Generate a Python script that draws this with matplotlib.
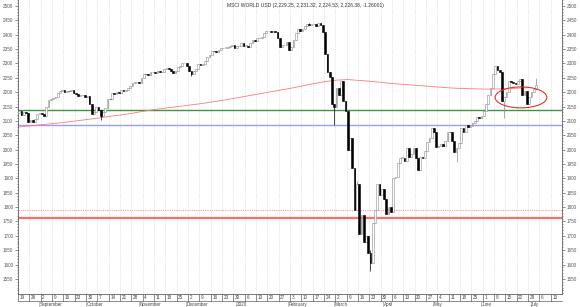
import numpy as np
import pandas as pd
import matplotlib
matplotlib.use('Agg')
import matplotlib.pyplot as plt
import matplotlib.transforms as mtransforms
from matplotlib.patches import Ellipse
from matplotlib.ticker import MultipleLocator

title = 'MSCI WORLD USD (2,229.25, 2,231.32, 2,224.53, 2,226.38, -1.26001)'
start = '2019-08-19'

# daily closes, one per weekday from 19 Aug 2019
closes = [
    2133, 2122, 2131, 2128, 2097,
    2104, 2096, 2108, 2124, 2128,
    2124, 2118, 2150, 2172, 2176,
    2180, 2184, 2196, 2204, 2208,
    2200, 2205, 2203, 2207, 2197,
    2195, 2186, 2192, 2190, 2183,
    2186, 2160, 2124, 2131, 2148,
    2139, 2116, 2130, 2145, 2178,
    2175, 2196, 2194, 2202, 2198,
    2206, 2204, 2209, 2214, 2221,
    2232, 2234, 2237, 2231, 2251,
    2264, 2263, 2261, 2269, 2271,
    2268, 2273, 2269, 2271, 2282,
    2284, 2281, 2274, 2268, 2273,
    2287, 2292, 2300, 2302, 2292,
    2273, 2262, 2274, 2281, 2298,
    2293, 2297, 2307, 2323, 2330,
    2344, 2343, 2340, 2348, 2353,
    2355, 2355, 2356, 2362, 2363,
    2355, 2360, 2360, 2373, 2362,
    2362, 2359, 2371, 2383, 2378,
    2389, 2387, 2392, 2406, 2413,
    2414, 2411, 2413, 2409, 2388,
    2356, 2363, 2366, 2376, 2346,
    2359, 2383, 2406, 2421, 2412,
    2419, 2431, 2436, 2433, 2436,
    2437, 2432, 2441, 2434, 2410,
    2332, 2272, 2252, 2158, 2150,
    2215, 2190, 2240, 2170, 2135,
    2000, 2040, 1935, 1790, 1880,
    1705, 1772, 1680, 1700, 1640,
    1606, 1745, 1790, 1880, 1842,
    1862, 1830, 1775, 1800, 1782,
    1900, 1905, 1955, 1972, 1972,
    1960, 2005, 1975, 1985, 2007,
    1970, 1930, 1975, 1972, 1995,
    2025, 2040, 2075, 2060, 2010,
    2014, 2020, 2012, 2030, 2063,
    2060, 2030, 1993, 2005, 2022,
    2075, 2060, 2085, 2080, 2082,
    2094, 2100, 2112, 2110, 2118,
    2135, 2160, 2190, 2215, 2265,
    2290, 2278, 2270, 2170, 2185,
    2200, 2240, 2236, 2232, 2228,
    2238, 2246, 2190, 2205, 2160,
    2184, 2200, 2210, 2226,
]
first_open = 2128
# long wicks that stand out (day index: value)
wick_high = {149: 1890, 155: 1650, 228: 2251, 128: 2442}
wick_low = {36: 2104, 76: 2258, 139: 2087, 155: 1579, 193: 1956, 214: 2110, 157: 1770}

# moving average line, read at each Monday
ma_weekly = [2079, 2083, 2087, 2091, 2095, 2100, 2105, 2110, 2116, 2121,
             2127, 2134, 2140, 2145, 2150, 2155, 2160, 2166, 2172, 2179,
             2186, 2193, 2200, 2207, 2214, 2222, 2230, 2237, 2242, 2244,
             2241, 2238, 2234, 2230, 2227, 2224, 2221, 2218, 2215, 2213,
             2212, 2211, 2211, 2212, 2214, 2216]

# horizontal levels
green_level = 2137
blue_level = 2087
dotted_level = 1791
red_level = 1762

# ellipse (day index, value, width in days, height in points)
ell = (221.4, 2182, 22.8, 73)

n_axis_days = 240
ymin, ymax = 1497.6, 2521

days = pd.bdate_range(start, periods=n_axis_days)
x = np.arange(len(closes))
c = np.array(closes, dtype=float)
o = np.r_[first_open, c[:-1]]
hi = np.maximum(o, c)
lo = np.minimum(o, c)
for k, v in wick_high.items():
    hi[k] = max(hi[k], v)
for k, v in wick_low.items():
    lo[k] = min(lo[k], v)
up = c >= o

fig = plt.figure(figsize=(5.8, 3.07), dpi=100)
ax = fig.add_axes([18 / 580, 13 / 307, 544 / 580, 294 / 307])
ax.set_xlim(-0.5, n_axis_days - 0.5)
ax.set_ylim(ymin, ymax)

# weekly dotted grid
for w in range(n_axis_days // 5):
    ax.axvline(5 * w - 0.5, color='#cfcfcf', lw=0.5, ls=(0, (1, 1.5)), zorder=0)

# levels
ax.axhline(green_level, color='#3c963c', lw=1.0, zorder=1)
ax.axhline(blue_level, color='#9a9aff', lw=1.0, zorder=1)
ax.axhline(dotted_level, color='#ff9a9a', lw=0.8, ls=(0, (1, 1)), zorder=1)
ax.axhline(red_level, color='#ff6c6c', lw=1.6, zorder=1)

# moving average
ax.plot(np.arange(len(ma_weekly)) * 5, ma_weekly, color='#ff7a7a', lw=0.6, zorder=2)

# candles
ax.vlines(x[up], lo[up], hi[up], color='#8c8c8c', lw=0.5, zorder=3)
ax.vlines(x[~up], lo[~up], hi[~up], color='black', lw=0.5, zorder=3)
body = np.maximum(np.abs(c - o), 1.5)
ax.bar(x[up], body[up], bottom=np.minimum(o, c)[up], width=0.75,
       color='white', edgecolor='#8c8c8c', lw=0.4, zorder=4)
ax.bar(x[~up], body[~up], bottom=np.minimum(o, c)[~up], width=0.75,
       color='black', edgecolor='black', lw=0.4, zorder=4)

ax.add_patch(Ellipse((ell[0], ell[1]), ell[2], ell[3], fill=False,
                     edgecolor='#e83030', lw=0.8, zorder=5))

# axes styling
ax.spines['top'].set_visible(False)
for s in ['left', 'right', 'bottom']:
    ax.spines[s].set_color('#606060')
    ax.spines[s].set_linewidth(0.6)
ax.set_xticks([])
ax.set_yticks(np.arange(1550, 2501, 50))
ax.yaxis.set_minor_locator(MultipleLocator(10))
ax.tick_params(axis='y', which='both', left=True, right=True, labelleft=True,
               labelright=True, direction='out', colors='#606060', width=0.5)
ax.tick_params(axis='y', which='major', length=2, pad=1.3, labelsize=3.3,
               labelcolor='#555555')
ax.tick_params(axis='y', which='minor', length=1)
for t in ax.get_yticklabels():
    t.set_family('Liberation Sans')

# date boxes under the axis
tr = mtransforms.blended_transform_factory(ax.transData, ax.transAxes)
row = -6.7 / 294
ax.plot([-0.5, n_axis_days - 0.5], [row, row], transform=tr, color='#606060',
        lw=0.5, clip_on=False)
for w in range(n_axis_days // 5):
    b = 5 * w - 0.5
    ax.plot([b, b], [0, row], transform=tr, color='#606060', lw=0.5, clip_on=False)
    ax.text(b + 0.7, row / 2, str(days[5 * w].day), transform=tr, fontsize=3.3,
            family='Liberation Sans', color='#444444', ha='left', va='center')

month_names = ['January', 'February', 'March', 'April', 'May', 'June', 'July',
               'August', 'September', 'October', 'November', 'December']
for i in range(1, n_axis_days):
    if days[i].month != days[i - 1].month:
        name = str(days[i].year) if days[i].month == 1 else month_names[days[i].month - 1]
        ax.plot([i - 1.3, i - 1.3], [row, row - 0.02], transform=tr, color='#909090',
                lw=0.4, clip_on=False)
        ax.text(i - 1.0, -10.8 / 294, name, transform=tr, fontsize=3.3,
                family='Liberation Sans', color='#444444', ha='left', va='center')

fig.text(305 / 580, 1 - 5 / 307, title, ha='center', va='center', fontsize=3.6,
         family='Liberation Sans', color='#333333')

fig.savefig('out.png', dpi=100)
